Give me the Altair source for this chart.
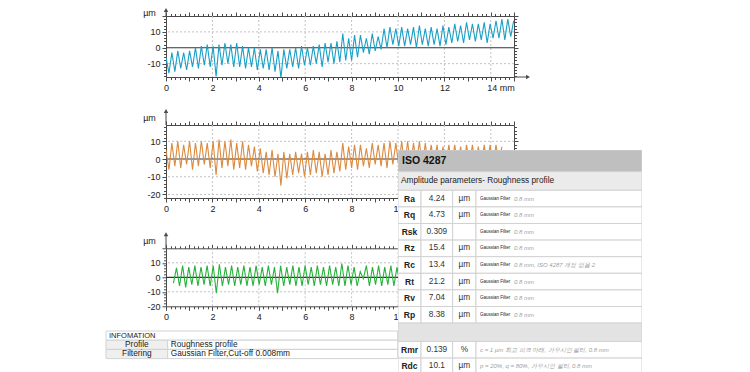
import altair as alt
import pandas as pd

# ---------------- data ----------------
# profile 1 (blue): first sample at 0 mm, then alternating valley / peak, µm
p1_start_mm = 0.0
p1_step_mm = 0.127
p1_um = [-6,
         -16, -3, -15, -2, -13, -3, -14, -2,
         -12, 0, -13, 1, -11, 2, -12, 1,
         -18, 2, -11, 3, -10, 2, -12, 3,
         -12, 1, -13, 0, -12, 0, -14, -1,
         -13, -1, -14, 0, -15, -2, -19, -1,
         -13, -1, -12, 0, -13, 1, -11, 0,
         -11, 1, -10, 2, -12, 3, -9, 3,
         -10, 4, -9, 9, -8, 6, -8, 8,
         -6, 8, -3, 6, -4, 9, -2, 7,
         -1, 12, 0, 13, 2, 12, 1, 13,
         1, 12, 2, 13, 0, 14, 2, 12,
         1, 13, 2, 12, 1, 14, 2, 13,
         3, 15, 4, 14, 3, 16, 5, 15,
         4, 15, 5, 16, 3, 15, 6, 17,
         6, 18, 5, 18, 7, 17]

# profile 2 (orange)
p2_start_mm = 0.0
p2_step_mm = 0.127
p2_um = [5,
         -6, 9, -4, 10, -5, 8, -3, 10,
         -6, 9, -4, 10, -3, 9, -5, 10,
         -9, 11, -5, 10, -4, 11, -6, 9,
         -5, 10, -6, 8, -4, 7, -7, 6,
         -8, 4, -9, 5, -10, 3, -15, 4,
         -11, 3, -9, 4, -8, 3, -10, 4,
         -9, 5, -8, 4, -10, 3, -9, 5,
         -8, 4, -7, 9, -6, 7, -5, 8,
         -6, 8, -4, 6, -5, 9, -3, 8,
         -4, 9, -5, 10, -3, 9, -4, 10,
         -5, 10, -4, 9, -3, 10, -5, 9,
         -4, 8, -3, 8, -5, 7, -4, 8,
         -3, 8, -4, 7, -5, 8, -3, 8,
         -4, 7, -5, 8, -3, 8, -4, 8,
         -3, 7]

# profile 3 (green)
p3_start_mm = 0.32
p3_step_mm = 0.132
p3_um = [-4,
         6.5, -6, 8, -7, 7, -5, 8, -6, 7, -5, 8, -6, 8, -11, 9, -6, 7, -5, 8, -6,
         7, -5, 8, -6, 7, -6, 8, -5, 7, -6, 8, -5, 7, -11, 8, -6, 7, -5, 8, -6,
         7, -6, 8, -5, 7, -6, 8, -5, 7, -6, 8, -5, 7, -6, 9.5, -6, 8, -5, 7, -6,
         4, -1, 8, -6, 7, -5, 8, -6, 7, -5, 8, -6, 7, -5, 8, -6, 7, -5]

x_domain_mm = [0, 15]
x_tick_values = [i / 5 for i in range(76)]
x_grid_mm = [2, 4, 6, 8, 10, 12, 14]
y_grid_um = [-20, -10, 10]
zero_level = [0]

# ISO 4287 table
iso_title = "ISO 4287"
iso_section = "Amplitude parameters- Roughness profile"
iso_names = ["Ra", "Rq", "Rsk", "Rz", "Rc", "Rt", "Rv", "Rp", "", "Rmr", "Rdc"]
iso_values = ["4.24", "4.73", "0.309", "15.4", "13.4", "21.2", "7.04", "8.38", "", "0.139", "10.1"]
iso_units = ["µm", "µm", "", "µm", "µm", "µm", "µm", "µm", "", "%", "µm"]
iso_filters = ["Gaussian Filter"] * 8 + ["", "", ""]
iso_notes = ["0.8 mm", "0.8 mm", "0.8 mm", "0.8 mm", "0.8 mm, ISO 4287 개정 없음 2",
             "0.8 mm", "0.8 mm", "0.8 mm", "",
             "c = 1 µm 최고 피크 아래, 가우시안 필터, 0.8 mm",
             "p = 20%, q = 80%, 가우시안 필터, 0.8 mm"]

# information table
info_title = "INFOMATION"
info_labels = ["Profile", "Filtering"]
info_values = ["Roughness profile", "Gaussian Filter,Cut-off 0.008mm"]

# ---------------- style ----------------
FONT = "Liberation Sans"
AX = "#4a4a4a"
LAB = "#222222"
GRID = "#c2c2c2"
BORDER = "#d2d2d2"


def y_tick_values(lo, hi):
    return [v for v in range(-22, 23, 2) if lo <= v <= hi]


def panel(start, step, values, color, ydom, height, arrow=14, title_y=-8, last_label=14, width=348):
    df = pd.DataFrame({"x": [start + i * step for i in range(len(values))], "y": values})
    xs = alt.Scale(domain=x_domain_mm, nice=False, zero=False)
    ys = alt.Scale(domain=ydom, nice=False, zero=False)
    yt = y_tick_values(*ydom)
    tick_x = {"condition": {"test": "datum.value % 1 == 0", "value": 4}, "value": 2.5}
    tick_y = {"condition": {"test": "datum.value % 10 == 0", "value": 4}, "value": 2.5}
    common = dict(domainColor=AX, tickColor=AX, domainWidth=1, tickWidth=1, grid=False)
    label_expr = ("datum.value == 14 ? '14 mm' : "
                  "(datum.value % 2 == 0 ? '' + datum.value : '')")
    if last_label < 14:
        label_expr = ("datum.value > %d ? '' : (datum.value %% 2 == 0 ? '' + datum.value : '')"
                      % last_label)

    line = alt.Chart(df).mark_line(color=color, strokeWidth=1.1, clip=True).encode(
        x=alt.X("x:Q", scale=xs, axis=alt.Axis(
            orient="bottom", values=x_tick_values, tickSize=tick_x, title=None,
            labelExpr=label_expr,
            labelAlign={"condition": {"test": "datum.value == 14", "value": "left"}, "value": "center"},
            labelOffset={"condition": {"test": "datum.value == 14", "value": -4}, "value": 0},
            labelFont=FONT, labelFontSize=9, labelColor=LAB, labelPadding=2,
            labelOverlap=False, labelFlush=False, **common)),
        y=alt.Y("y:Q", scale=ys, axis=alt.Axis(
            orient="left", values=yt, tickSize=tick_y,
            labelExpr="datum.value % 10 == 0 && datum.value < 20 ? '' + datum.value : ''",
            labelFont=FONT, labelFontSize=9, labelColor=LAB, labelPadding=2,
            labelOverlap=False, labelFlush=False,
            title="µm", titleAngle=0, titleX=-17, titleY=title_y, titleAlign="center",
            titleBaseline="middle", titleFont=FONT, titleFontSize=9,
            titleFontWeight="normal", titleColor=LAB, **common)),
    )
    frame = alt.Chart(df).mark_point(opacity=0).encode(
        x=alt.X("x:Q", scale=xs, axis=alt.Axis(orient="top", values=x_tick_values,
                                                tickSize=tick_x, labels=False, title=None, **common)),
        y=alt.Y("y:Q", scale=ys, axis=alt.Axis(orient="right", values=yt,
                                                tickSize=tick_y, labels=False, title=None, **common)),
    )
    gx = alt.Chart(pd.DataFrame({"v": x_grid_mm})).mark_rule(
        color=GRID, strokeDash=[2, 2], strokeWidth=1).encode(
        x=alt.X("v:Q", scale=xs, axis=None))
    gy = alt.Chart(pd.DataFrame({"v": [g for g in y_grid_um if ydom[0] < g < ydom[1]]})).mark_rule(
        color=GRID, strokeDash=[2, 2], strokeWidth=1).encode(
        y=alt.Y("v:Q", scale=ys, axis=None))
    zero = alt.Chart(pd.DataFrame({"v": zero_level})).mark_rule(
        color="#333333", strokeWidth=1.2).encode(y=alt.Y("v:Q", scale=ys, axis=None))
    one = pd.DataFrame({"a": [0]})
    up_line = alt.Chart(one).mark_rule(color=AX, strokeWidth=1, y2Offset=-arrow).encode(
        x=alt.XDatum(x_domain_mm[0], axis=None), y=alt.YDatum(ydom[1], axis=None),
        y2=alt.datum(ydom[1]))
    up_head = alt.Chart(one).mark_point(shape="triangle-up", filled=True, size=20, color=AX,
                                        opacity=1, yOffset=-arrow).encode(
        x=alt.XDatum(x_domain_mm[0], axis=None), y=alt.YDatum(ydom[1], axis=None))
    right_line = alt.Chart(one).mark_rule(color=AX, strokeWidth=1, x2Offset=14).encode(
        x=alt.XDatum(x_domain_mm[1], axis=None), x2=alt.datum(x_domain_mm[1]),
        y=alt.YDatum(ydom[0], axis=None))
    right_head = alt.Chart(one).mark_point(shape="triangle-right", filled=True, size=20, color=AX,
                                           opacity=1, xOffset=14).encode(
        x=alt.XDatum(x_domain_mm[1], axis=None), y=alt.YDatum(ydom[0], axis=None))
    return alt.layer(gx, gy, zero, line, frame, up_line, up_head, right_line, right_head).resolve_axis(
        x="independent", y="independent").properties(width=width, height=height)


def table(cells, texts, width, height, xdom, clip):
    cdf = pd.DataFrame(cells)
    xs = alt.Scale(domain=xdom, nice=False, zero=False)
    ys = alt.Scale(domain=[0, height], nice=False, zero=False, reverse=True)
    layers = [alt.Chart(cdf).mark_rect(stroke=BORDER, strokeWidth=1, clip=clip).encode(
        x=alt.X("x0:Q", scale=xs, axis=None), x2="x1:Q",
        y=alt.Y("y0:Q", scale=ys, axis=None), y2="y1:Q",
        fill=alt.Fill("fill:N", scale=None))]
    tdf = pd.DataFrame(texts)
    for (weight, style, align), grp in tdf.groupby(["weight", "style", "align"]):
        layers.append(alt.Chart(grp).mark_text(
            fontWeight=weight, fontStyle=style, align=align, baseline="middle", font=FONT, clip=clip).encode(
            x=alt.X("x:Q", scale=xs, axis=None), y=alt.Y("y:Q", scale=ys, axis=None),
            text="t:N", size=alt.Size("size:Q", scale=None), color=alt.Color("color:N", scale=None)))
    return alt.layer(*layers).properties(width=width, height=height)


def txt(x, y, t, size, color="#222222", weight="normal", style="normal", align="left"):
    return dict(x=x, y=y, t=t, size=size, color=color, weight=weight, style=style, align=align)


# ---- ISO table layout ----
iso_cols = [0, 23, 54.7, 78, 244]
iso_rows = [21.6, 18.7] + [16.6] * 8 + [18.4] + [16.6] * 2
iso_height = 222
iso_cells, iso_texts = [], []
top = 0
for r, h in enumerate(iso_rows):
    mid = top + h / 2
    if r == 0:
        iso_cells.append(dict(x0=0, x1=244, y0=top, y1=top + h, fill="#bfbfbf"))
        iso_texts.append(txt(4, mid, iso_title, 10.5, "#111111", weight="bold"))
    elif r == 1:
        iso_cells.append(dict(x0=0, x1=244, y0=top, y1=top + h, fill="#ebebeb"))
        iso_texts.append(txt(3, mid, iso_section, 8.3, "#222222"))
    else:
        i = r - 2
        if iso_names[i] == "":
            iso_cells.append(dict(x0=0, x1=244, y0=top, y1=top + h, fill="#e3e3e3"))
        else:
            for c in range(4):
                iso_cells.append(dict(x0=iso_cols[c], x1=iso_cols[c + 1], y0=top, y1=top + h, fill="#ffffff"))
            iso_texts.append(txt((iso_cols[0] + iso_cols[1]) / 2, mid, iso_names[i], 8.5, "#222222",
                                 weight="bold", align="center"))
            iso_texts.append(txt((iso_cols[1] + iso_cols[2]) / 2, mid, iso_values[i], 8.3, "#333333",
                                 align="center"))
            if iso_units[i]:
                iso_texts.append(txt((iso_cols[2] + iso_cols[3]) / 2, mid, iso_units[i], 8.3, "#333333",
                                     align="center"))
            nx = iso_cols[3] + 4
            if iso_filters[i]:
                iso_texts.append(txt(nx, mid, iso_filters[i], 4.5, "#222222"))
                nx += 34
            iso_texts.append(txt(nx, mid, iso_notes[i], 6, "#a0a0a0", style="italic"))
    top += h

iso_chart = table(iso_cells, iso_texts, 244, iso_height, [0, 244], True)

# ---- information table layout ----
info_cols = [-60, 1.7, 231.7]
info_rows = [9.2, 9.2, 9.2]
info_cells, info_texts = [], []
top = 0
for r, h in enumerate(info_rows):
    mid = top + h / 2
    if r == 0:
        info_cells.append(dict(x0=info_cols[0], x1=info_cols[2], y0=top, y1=top + h, fill="#ffffff"))
        info_texts.append(txt(info_cols[0] + 3, mid, info_title, 7.5))
    else:
        info_cells.append(dict(x0=info_cols[0], x1=info_cols[1], y0=top, y1=top + h, fill="#efefef"))
        info_cells.append(dict(x0=info_cols[1], x1=info_cols[2], y0=top, y1=top + h, fill="#ffffff"))
        info_texts.append(txt((info_cols[0] + info_cols[1]) / 2, mid, info_labels[r - 1], 8.3, align="center"))
        info_texts.append(txt(info_cols[1] + 3, mid, info_values[r - 1], 8.3))
    top += h

info_chart = table(info_cells, info_texts, 232, sum(info_rows), [0, 232], False)

# ---- panels ----
panel1 = panel(p1_start_mm, p1_step_mm, p1_um, "#1aa0c6", [-18.4, 20], 61, arrow=6, title_y=-4)
panel2 = panel(p2_start_mm, p2_step_mm, p2_um, "#dc8a3e", [-22, 19.2], 73, last_label=10)
panel3 = panel(p3_start_mm, p3_step_mm, p3_um, "#27b23a", [-20, 20], 58, last_label=10)

spacer = alt.Chart(pd.DataFrame({"a": [0]})).mark_point(opacity=0).encode(
    x=alt.X("a:Q", axis=None), y=alt.Y("a:Q", axis=None)).properties(width=1, height=25)

lower_left = alt.vconcat(panel3, info_chart, spacing=24.7, bounds="flush")
left_col = alt.vconcat(panel2, lower_left, spacing=50.3, bounds="flush")
right_col = alt.vconcat(spacer, iso_chart, spacing=0, bounds="flush")
middle = alt.hconcat(left_col, right_col, spacing=232, bounds="flush")

chart = alt.vconcat(panel1, middle, spacing=48, bounds="flush").properties(
    padding={"left": 97, "top": 0, "right": 0, "bottom": 0}
).configure_view(stroke=None).configure_axis(grid=False)

chart.save("out.html", embed_options={"renderer": "svg", "actions": False})
